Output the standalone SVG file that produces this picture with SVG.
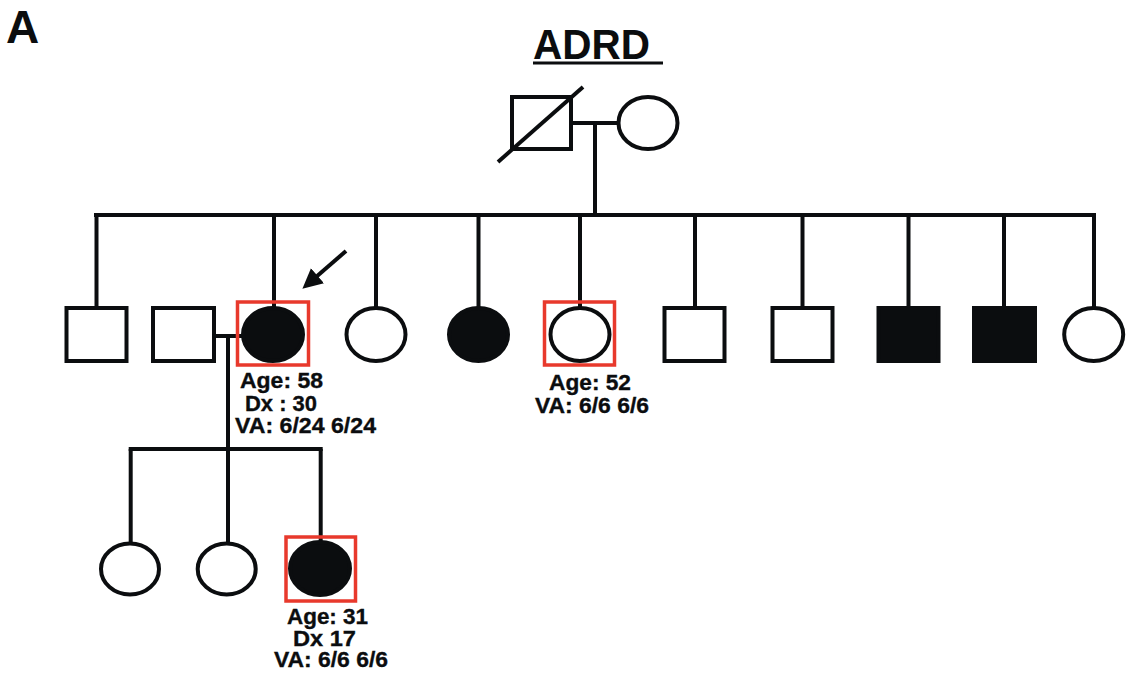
<svg xmlns="http://www.w3.org/2000/svg" width="1139" height="676" viewBox="0 0 1139 676">
  <defs>
    <style>
      .ln { stroke: #0b0d0f; stroke-width: 4; fill: none; }
      .open { fill: #ffffff; stroke: #0b0d0f; stroke-width: 4; }
      .aff { fill: #0b0d0f; stroke: #0b0d0f; stroke-width: 4; }
      .hl { fill: none; stroke: #e8392c; stroke-width: 3.5; }
      .lbl { font-family: "Liberation Sans", Arial, sans-serif; font-weight: bold; font-size: 22px; fill: #0b0d0f; stroke: #0b0d0f; stroke-width: 0.35; }
      .ttl { font-family: "Liberation Sans", Arial, sans-serif; font-weight: bold; fill: #0b0d0f; }
    </style>
    <marker id="arrowhead" markerUnits="userSpaceOnUse" markerWidth="24" markerHeight="24" refX="2" refY="10" orient="auto">
      <path d="M0,0 L20,10 L0,20 Z" fill="#0b0d0f"/>
    </marker>
  </defs>

  <rect width="1139" height="676" fill="#ffffff"/>

  <!-- panel letter and title -->
  <text class="ttl" x="6" y="43" font-size="46">A</text>
  <text class="ttl" x="533" y="59" font-size="42" textLength="117" lengthAdjust="spacingAndGlyphs">ADRD</text>
  <rect x="533" y="61.5" width="130" height="3" fill="#0b0d0f"/>

  <!-- connectors -->
  <g id="connectors">
    <line class="ln" x1="573" y1="123" x2="618" y2="123"/>
    <line class="ln" x1="595" y1="123" x2="595" y2="215"/>
    <line class="ln" x1="94" y1="215" x2="1096" y2="215"/>
    <line class="ln" x1="96.5" y1="215" x2="96.5" y2="308"/>
    <line class="ln" x1="274" y1="215" x2="274" y2="308"/>
    <line class="ln" x1="376" y1="215" x2="376" y2="308"/>
    <line class="ln" x1="478.5" y1="215" x2="478.5" y2="308"/>
    <line class="ln" x1="580" y1="215" x2="580" y2="308"/>
    <line class="ln" x1="695" y1="215" x2="695" y2="308"/>
    <line class="ln" x1="802.5" y1="215" x2="802.5" y2="308"/>
    <line class="ln" x1="908.5" y1="215" x2="908.5" y2="308"/>
    <line class="ln" x1="1004" y1="215" x2="1004" y2="308"/>
    <line class="ln" x1="1094" y1="215" x2="1094" y2="308"/>
    <!-- marriage of II-2 and II-3 -->
    <line class="ln" x1="214" y1="336" x2="243" y2="336"/>
    <line class="ln" x1="228" y1="336" x2="228" y2="543"/>
    <line class="ln" x1="128.7" y1="449" x2="322.7" y2="449"/>
    <line class="ln" x1="130.7" y1="449" x2="130.7" y2="543"/>
    <line class="ln" x1="320.7" y1="449" x2="320.7" y2="542"/>
    <!-- proband arrow -->
    <line class="ln" x1="346" y1="251" x2="316" y2="277" stroke-width="4.5" marker-end="url(#arrowhead)"/>
  </g>

  <!-- generation I -->
  <g id="I-1">
    <rect class="open" x="512" y="97" width="59" height="52"/>
    <line class="ln" x1="498" y1="162" x2="583" y2="87"/>
  </g>
  <g id="I-2">
    <ellipse class="open" cx="648" cy="123" rx="29.5" ry="26"/>
  </g>

  <!-- generation II -->
  <g id="II-1"><rect class="open" x="66.5" y="308" width="60" height="53"/></g>
  <g id="II-2"><rect class="open" x="153" y="308" width="61" height="53"/></g>
  <g id="II-3">
    <ellipse class="aff" cx="273" cy="334.5" rx="30" ry="26.5"/>
    <rect class="hl" x="237.5" y="302" width="71" height="63"/>
    <text class="lbl" x="240" y="388" textLength="83" lengthAdjust="spacingAndGlyphs">Age: 58</text>
    <text class="lbl" x="245" y="411" textLength="72" lengthAdjust="spacingAndGlyphs">Dx : 30</text>
    <text class="lbl" x="235" y="433" textLength="141" lengthAdjust="spacingAndGlyphs">VA: 6/24 6/24</text>
  </g>
  <g id="II-4"><ellipse class="open" cx="376" cy="334.5" rx="29.5" ry="26.5"/></g>
  <g id="II-5"><ellipse class="aff" cx="478.5" cy="334.5" rx="29.5" ry="26.5"/></g>
  <g id="II-6">
    <ellipse class="open" cx="580" cy="334.5" rx="29.5" ry="26.5"/>
    <rect class="hl" x="544.5" y="302" width="70" height="63"/>
    <text class="lbl" x="549" y="389.5" textLength="82" lengthAdjust="spacingAndGlyphs">Age: 52</text>
    <text class="lbl" x="535" y="412.5" textLength="114" lengthAdjust="spacingAndGlyphs">VA: 6/6 6/6</text>
  </g>
  <g id="II-7"><rect class="open" x="664.5" y="308" width="60" height="53"/></g>
  <g id="II-8"><rect class="open" x="772.5" y="308" width="60" height="53"/></g>
  <g id="II-9"><rect class="aff" x="878.5" y="308" width="60" height="53"/></g>
  <g id="II-10"><rect class="aff" x="974" y="308" width="61" height="53"/></g>
  <g id="II-11"><ellipse class="open" cx="1093.7" cy="334.5" rx="29.5" ry="26.5"/></g>

  <!-- generation III -->
  <g id="III-1"><ellipse class="open" cx="130" cy="569" rx="29" ry="25.5"/></g>
  <g id="III-2"><ellipse class="open" cx="226.7" cy="569" rx="29" ry="25.5"/></g>
  <g id="III-3">
    <ellipse class="aff" cx="320" cy="568.5" rx="30" ry="26.5"/>
    <rect class="hl" x="286" y="537" width="69.5" height="64"/>
    <text class="lbl" x="287" y="624" textLength="81" lengthAdjust="spacingAndGlyphs">Age: 31</text>
    <text class="lbl" x="293" y="645.5" textLength="63" lengthAdjust="spacingAndGlyphs">Dx 17</text>
    <text class="lbl" x="274" y="667" textLength="114" lengthAdjust="spacingAndGlyphs">VA: 6/6 6/6</text>
  </g>
</svg>
